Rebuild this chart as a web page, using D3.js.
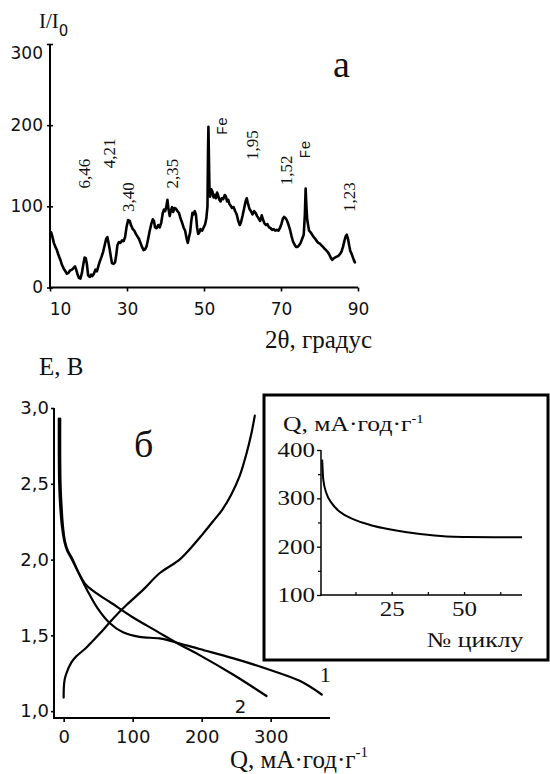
<!DOCTYPE html>
<html>
<head>
<meta charset="utf-8">
<script src="https://cdn.jsdelivr.net/npm/d3@7"></script>
<style>
  html, body { margin: 0; padding: 0; background: #fff; }
  svg { display: block; }
</style>
</head>
<body>
<svg id="chart" width="550" height="774"></svg>
<script>
// ---- panel a: X-ray diffraction pattern ----
const xrdAngle = [10.3, 10.6, 11.0, 11.4, 11.8, 12.2, 12.7, 13.1, 13.6, 14.0, 14.4, 14.8, 15.2, 15.7, 16.1, 16.5, 16.8, 17.1, 17.5, 17.9,
  18.3, 18.7, 19.0, 19.3, 19.6, 19.9, 20.3, 20.7, 21.0, 21.4, 21.8, 22.2, 22.6, 23.0, 23.4, 23.8, 24.2, 24.6, 24.9, 25.2,
  25.5, 25.8, 26.1, 26.5, 26.9, 27.2, 27.5, 27.9, 28.3, 28.7, 29.1, 29.5, 29.9, 30.3, 30.7, 31.1, 31.5, 31.9, 32.3, 32.7,
  33.1, 33.5, 33.9, 34.3, 34.7, 35.1, 35.5, 35.9, 36.3, 36.7, 37.0, 37.3, 37.7, 38.1, 38.5, 38.9, 39.3, 39.6, 39.9, 40.2,
  40.5, 40.8, 41.1, 41.4, 41.7, 42.0, 42.3, 42.7, 43.1, 43.5, 43.9, 44.3, 44.7, 45.1, 45.5, 45.8, 46.1, 46.4, 46.7, 47.0,
  47.3, 47.6, 47.9, 48.2, 48.5, 48.8, 49.1, 49.5, 49.9, 50.3, 50.6, 50.9, 51.05, 51.15, 51.25, 51.4, 51.6, 51.9, 52.2, 52.5,
  52.8, 53.1, 53.4, 53.7, 54.0, 54.3, 54.6, 55.0, 55.4, 55.7, 56.0, 56.3, 56.6, 56.9, 57.3, 57.7, 58.1, 58.5, 58.9, 59.3,
  59.6, 60.0, 60.4, 60.8, 61.1, 61.4, 61.8, 62.2, 62.6, 63.0, 63.4, 63.8, 64.2, 64.6, 65.0, 65.3, 65.7, 66.1, 66.5, 66.9,
  67.3, 67.7, 68.1, 68.5, 68.9, 69.3, 69.7, 70.1, 70.5, 70.8, 71.1, 71.5, 71.9, 72.3, 72.7, 73.1, 73.5, 73.9, 74.3, 74.7,
  75.1, 75.5, 75.9, 76.2, 76.4, 76.6, 76.8, 77.0, 77.3, 77.7, 78.1, 78.5, 78.9, 79.3, 79.7, 80.1, 80.5, 80.9, 81.3, 81.7,
  82.1, 82.5, 82.9, 83.3, 83.7, 84.1, 84.5, 84.9, 85.3, 85.7, 86.1, 86.5, 86.8, 87.1, 87.4, 87.7, 88.0, 88.3, 88.6, 88.9,
  89.2];
const xrdIntensity = [68, 63, 55, 50, 46, 40, 34, 28, 23, 20, 17, 18, 21, 22, 24, 26, 22, 17, 12, 11,
  18, 30, 37, 36, 28, 15, 13, 16, 14, 17, 22, 20, 27, 33, 38, 44, 52, 60, 62, 55,
  47, 38, 30, 29, 31, 40, 52, 56, 55, 58, 57, 62, 75, 83, 82, 76, 72, 70, 66, 63,
  60, 55, 50, 46, 47, 51, 60, 70, 78, 84, 82, 74, 73, 77, 74, 80, 92, 96, 94, 99,
  108, 96, 88, 95, 99, 93, 98, 97, 94, 92, 85, 80, 74, 70, 60, 55, 62, 68, 82, 92,
  90, 94, 90, 74, 66, 68, 72, 70, 74, 78, 85, 100, 170, 198, 168, 125, 112, 121, 118, 111,
  114, 110, 117, 113, 108, 106, 110, 109, 114, 112, 106, 108, 103, 101, 98, 99, 94, 90, 82, 77,
  80, 88, 97, 106, 110, 104, 97, 94, 90, 94, 92, 88, 85, 82, 89, 84, 79, 77, 78, 74,
  73, 71, 72, 70, 71, 70, 73, 78, 85, 87, 86, 83, 78, 72, 64, 57, 53, 50, 50, 52,
  55, 60, 65, 90, 122, 100, 84, 78, 70, 68, 65, 62, 60, 57, 55, 54, 52, 50, 48, 46,
  44, 41, 37, 34, 36, 37, 38, 39, 41, 44, 50, 58, 63, 65, 60, 52, 45, 42, 38, 34,
  31];
const xrdTicksX = [10, 30, 50, 70, 90];
const xrdTicksY = [0, 100, 200, 300];
const peakText = ["6,46", "4,21", "3,40", "2,35", "Fe", "1,95", "1,52", "Fe", "1,23"];
const peakAngle = [18.9, 25.4, 30.5, 41.9, 55.0, 62.5, 71.3, 76.7, 87.8];
const peakLevel = [122, 147, 93, 122, 188, 157, 126, 159, 93];

// ---- panel б: discharge (1, 2) and charge curves ----
const q1 = [-5, -5, -4.5, -3, -1, 2, 6, 12, 23, 35, 49, 67, 86, 110, 139, 158, 197, 245, 294, 342, 374];
const e1 = [2.93, 2.7, 2.5, 2.35, 2.22, 2.12, 2.06, 2.01, 1.90, 1.79, 1.68, 1.58, 1.52, 1.49, 1.48, 1.46, 1.41, 1.35, 1.28, 1.20, 1.11];
const q2 = [-7, -7, -6.5, -5, -2.5, 1, 5, 12, 22, 33, 50, 67, 100, 134, 168, 197, 246, 294];
const e2 = [2.93, 2.7, 2.5, 2.35, 2.22, 2.12, 2.06, 2.0, 1.91, 1.83, 1.77, 1.72, 1.62, 1.53, 1.44, 1.37, 1.24, 1.10];
const qCharge = [0, 0.3, 1.5, 4, 11, 18, 33, 52, 71.5, 91, 115, 139, 168, 185, 200, 216, 230, 243, 255, 265, 272, 277];
const eCharge = [1.09, 1.16, 1.21, 1.25, 1.32, 1.36, 1.42, 1.51, 1.61, 1.70, 1.80, 1.91, 2.00, 2.08, 2.16, 2.25, 2.33, 2.43, 2.55, 2.70, 2.83, 2.95];
const eTicks = [1, 1.5, 2, 2.5, 3];
const eTickText = ["1,0", "1,5", "2,0", "2,5", "3,0"];
const qTicks = [0, 100, 200, 300];
const curveText = ["1", "2"];
const curveTextQ = [371, 248];
const curveTextE = [1.19, 0.99];

// ---- inset: capacity vs cycle number ----
const cycleNo = [1, 1.4, 2.5, 4.3, 7.1, 11.7, 17.5, 25.6, 34.8, 44, 51, 60, 70];
const cycleQ = [380, 338, 310, 290, 272, 257, 245, 234.5, 226, 221, 220, 219.5, 219.5];
const cycleTicks = [25, 50];
const cycleMinor = [12.5, 37.5, 62.5];
const capTicks = [100, 200, 300, 400];
const capMinor = [150, 250, 350];

const svg = d3.select("#chart");
const SANS = "'DejaVu Sans', sans-serif";
const SERIF = "'Liberation Serif', 'Times New Roman', serif";

// d3 axis supplies tick positions and labels; marks are drawn as filled bars
function frame(parent, xScale, yScale, x0, x1, y0, y1, w) {
  // vertical axis at x0, horizontal axis at y0
  parent.append("rect").attr("fill", "#000")
    .attr("x", xScale(x0) - w / 2).attr("y", yScale(y1))
    .attr("width", w).attr("height", yScale(y0) - yScale(y1) + w / 2);
  parent.append("rect").attr("fill", "#000")
    .attr("x", xScale(x0) - w / 2).attr("y", yScale(y0) - w / 2)
    .attr("width", xScale(x1) - xScale(x0) + w / 2).attr("height", w);
}
function ticksAsBars(g, orient, len, w, both) {
  g.select(".domain").remove();
  g.selectAll(".tick").each(function () {
    const t = d3.select(this);
    t.select("line").remove();
    if (orient === "left") {
      t.insert("rect", "text").attr("fill", "#000")
        .attr("x", -len).attr("y", -w / 2).attr("width", both ? 2 * len : len).attr("height", w);
    } else {
      t.insert("rect", "text").attr("fill", "#000")
        .attr("x", -w / 2).attr("y", len < 0 ? len : (both ? -len : 0)).attr("width", w)
        .attr("height", Math.abs(len) * (both ? 2 : 1));
    }
  });
}
function labelFont(g, size, family) {
  g.selectAll(".tick text").attr("fill", "#111").attr("font-size", size).attr("font-family", family);
}

// ================= panel a =================
const xA = d3.scaleLinear().domain([10, 90]).range([50, 358]);
const yA = d3.scaleLinear().domain([0, 300]).range([287.5, 44]);
const gA = svg.append("g");

frame(gA, xA, yA, 10, 90, 0, 300, 2);

const axAy = gA.append("g").attr("transform", `translate(${xA(10)},0)`)
  .call(d3.axisLeft(yA).tickValues(xrdTicksY).tickSizeInner(3).tickSizeOuter(0).tickPadding(4).tickFormat(d => d));
ticksAsBars(axAy, "left", 3, 1.6, true);
labelFont(axAy, 17, SANS);
axAy.selectAll(".tick text").filter(d => d === 300).attr("dy", "0.85em");

const axAx = gA.append("g").attr("transform", `translate(0,${yA(0)})`)
  .call(d3.axisBottom(xA).tickValues(xrdTicksX).tickSizeInner(4).tickSizeOuter(0).tickPadding(11).tickFormat(d => d));
ticksAsBars(axAx, "bottom", 4, 1.6, false);
labelFont(axAx, 17, SANS);
axAx.selectAll(".tick text").filter(d => d === 10).attr("dx", 10);

gA.append("path")
  .datum(xrdAngle.map((a, i) => [a, xrdIntensity[i]]))
  .attr("fill", "none").attr("stroke", "#000").attr("stroke-width", 2.6)
  .attr("stroke-linejoin", "round").attr("stroke-linecap", "round")
  .attr("d", d3.line().x(d => xA(d[0])).y(d => yA(d[1])));

gA.selectAll("text.peak").data(peakText).join("text")
  .attr("class", "peak")
  .attr("transform", (d, i) => `translate(${xA(peakAngle[i])},${yA(peakLevel[i])}) rotate(-90)`)
  .attr("dominant-baseline", "central")
  .attr("font-family", d => d === "Fe" ? "'Liberation Mono', monospace" : SERIF)
  .attr("font-size", d => d === "Fe" ? 15 : 17)
  .attr("fill", "#111")
  .text(d => d);

// axis title I/I0
const tI = gA.append("text").attr("x", 39).attr("y", 28).attr("fill", "#111");
tI.append("tspan").attr("font-family", SERIF).attr("font-size", 21).text("I/I");
tI.append("tspan").attr("font-family", SANS).attr("font-size", 15).attr("dy", 8).text("0");

gA.append("text").attr("x", 333).attr("y", 77).attr("font-family", SERIF).attr("font-size", 38)
  .attr("fill", "#111").text("a");

gA.append("text").attr("x", 265).attr("y", 348).attr("font-family", SERIF).attr("font-size", 25)
  .attr("fill", "#111").text("2θ, градус");

// ================= panel б =================
const xB = d3.scaleLinear().domain([-14, 386]).range([54, 330]);
const yB = d3.scaleLinear().domain([0.955, 3]).range([718, 408]);
const gB = svg.append("g");

frame(gB, xB, yB, -14, 386, 0.955, 3, 2);

const axBy = gB.append("g").attr("transform", `translate(${xB(-14)},0)`)
  .call(d3.axisLeft(yB).tickValues(eTicks).tickSizeInner(3).tickSizeOuter(0).tickPadding(2)
    .tickFormat((d, i) => eTickText[i]));
ticksAsBars(axBy, "left", 3, 1.6, false);
labelFont(axBy, 18, SANS);

const axBx = gB.append("g").attr("transform", `translate(0,${yB(0.955)})`)
  .call(d3.axisBottom(xB).tickValues(qTicks).tickSizeInner(4).tickSizeOuter(0).tickPadding(8).tickFormat(d => d));
ticksAsBars(axBx, "bottom", 4, 1.6, false);
labelFont(axBx, 18, SANS);

const lineB = d3.line().x(d => xB(d[0])).y(d => yB(d[1])).curve(d3.curveCatmullRom.alpha(0.5));
[[q1, e1], [q2, e2], [qCharge, eCharge]].forEach(([q, e]) => {
  gB.append("path")
    .datum(q.map((v, i) => [v, e[i]]))
    .attr("fill", "none").attr("stroke", "#000").attr("stroke-width", 2.2)
    .attr("stroke-linejoin", "round").attr("stroke-linecap", "round")
    .attr("d", lineB);
});

gB.selectAll("text.curve").data(curveText).join("text")
  .attr("class", "curve")
  .attr("x", (d, i) => xB(curveTextQ[i]))
  .attr("y", (d, i) => yB(curveTextE[i]))
  .attr("font-family", (d, i) => i === 0 ? SERIF : SANS)
  .attr("font-size", (d, i) => i === 0 ? 22 : 18)
  .attr("fill", "#111")
  .text(d => d);

gB.append("text").attr("x", 39).attr("y", 375).attr("font-family", SERIF).attr("font-size", 25)
  .attr("fill", "#111").text("E, В");

gB.append("text").attr("x", 134).attr("y", 457).attr("font-family", SERIF).attr("font-size", 38)
  .attr("fill", "#111").text("б");

const tQ = gB.append("text").attr("x", 230).attr("y", 768).attr("font-family", SERIF).attr("font-size", 25).attr("fill", "#111");
tQ.append("tspan").text("Q, мА·год·г");
tQ.append("tspan").attr("font-size", 15).attr("dy", -11).text("-1");

// ================= inset =================
const gI = svg.append("g");
gI.append("rect").attr("x", 264).attr("y", 395).attr("width", 284).attr("height", 265)
  .attr("fill", "#fff").attr("stroke", "#000").attr("stroke-width", 3);

const xI = d3.scaleLinear().domain([0.6, 70]).range([321, 522]);
const yI = d3.scaleLinear().domain([100, 400]).range([595, 450]);

frame(gI, xI, yI, 0.6, 70, 100, 400, 1.5);

const axIy = gI.append("g").attr("transform", `translate(${xI(0.6)},0)`)
  .call(d3.axisLeft(yI).tickValues(capTicks).tickSizeInner(4).tickSizeOuter(0).tickPadding(2).tickFormat(d => d));
ticksAsBars(axIy, "left", 4, 1.3, false);
labelFont(axIy, 20, SERIF);
const axIym = gI.append("g").attr("transform", `translate(${xI(0.6)},0)`)
  .call(d3.axisLeft(yI).tickValues(capMinor).tickSizeInner(3).tickSizeOuter(0).tickFormat(""));
ticksAsBars(axIym, "left", 3, 1.2, false);

const axIx = gI.append("g").attr("transform", `translate(0,${yI(100)})`)
  .call(d3.axisBottom(xI).tickValues(cycleTicks).tickSizeInner(4).tickSizeOuter(0).tickPadding(8).tickFormat(d => d));
ticksAsBars(axIx, "bottom", -3, 1.3, false);
labelFont(axIx, 20, SERIF);
axIx.selectAll(".tick text").attr("y", 7);
const axIxm = gI.append("g").attr("transform", `translate(0,${yI(100)})`)
  .call(d3.axisBottom(xI).tickValues(cycleMinor).tickSizeInner(4).tickSizeOuter(0).tickFormat(""));
ticksAsBars(axIxm, "bottom", -3, 1.2, false);
[axIy, axIx].forEach(g => {
  g.selectAll(".tick text").each(function () {
    const w = this.getComputedTextLength();
    d3.select(this).attr("textLength", w * 1.25).attr("lengthAdjust", "spacingAndGlyphs");
  });
});

gI.append("path")
  .datum(cycleNo.map((c, i) => [c, cycleQ[i]]))
  .attr("fill", "none").attr("stroke", "#000").attr("stroke-width", 2)
  .attr("d", d3.line().x(d => xI(d[0])).y(d => yI(d[1])).curve(d3.curveMonotoneX));

const tIQ = gI.append("g").attr("transform", "translate(283,431) scale(1.22,1)")
  .append("text").attr("font-family", SERIF).attr("font-size", 21).attr("fill", "#111");
tIQ.append("tspan").text("Q, мА·год·г");
tIQ.append("tspan").attr("font-size", 12).attr("dy", -8).text("-1");

gI.append("g").attr("transform", "translate(427,647) scale(1.22,1)")
  .append("text").attr("font-family", SERIF).attr("font-size", 21).attr("fill", "#111").text("№ циклу");
</script>
</body>
</html>
